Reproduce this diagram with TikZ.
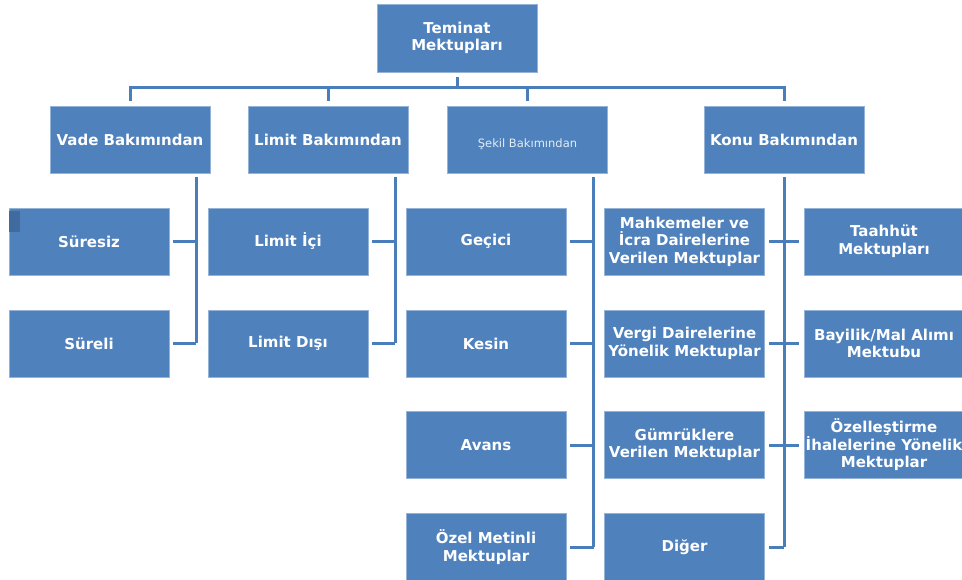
\documentclass[tikz,border=0pt]{standalone}
\usepackage{fontspec}
\setmainfont{DejaVu Sans}
\definecolor{boxblue}{HTML}{4F81BD}
\definecolor{lineblue}{HTML}{4A7EBB}
\definecolor{boxdark}{HTML}{3F6B9F}
\tikzset{
    box/.style={fill=boxblue, draw=boxblue!60!white, line width=0.8pt, text=white,
        minimum width=160pt, minimum height=67pt, inner sep=0pt, align=center,
        font=\fontsize{15}{17.5}\selectfont\bfseries},
    link/.style={draw=lineblue, line width=3pt}
}
\begin{document}
\begin{tikzpicture}[x=1pt,y=-1pt]
    \def\topy {139.5}
    \def\busy {88}
    \useasboundingbox (0,0) rectangle (962,580);
    \fill[white] (0,0) rectangle (962,580);

    \node[box, minimum height=68pt] (root) at (457,38) {Teminat\\Mektupları};
    \node[box] (vade) at (130,\topy) {Vade Bakımından};
    \node[box] (limit) at (328,\topy) {Limit Bakımından};
    \node[box, font=\fontsize{11.5}{13}\selectfont, text=white!85!boxblue] (sekil) at (527.5,\topy) {\raisebox{-8.5pt}[0pt][0pt]{Şekil Bakımından}};
    \node[box] (konu) at (784,\topy) {Konu Bakımından};

    \foreach \name/\x/\y/\txt in {
        suresiz/89/241.5/{Süresiz},
        sureli/89/343.5/{Süreli},
        limitici/288/241.5/{Limit İçi},
        limitdisi/288/343.5/{Limit Dışı},
        gecici/486/241.5/{Geçici},
        kesin/486/343.5/{Kesin},
        avans/486/445/{Avans},
        ozel/486/547/{Özel Metinli\\Mektuplar},
        mahkeme/684.5/241.5/{Mahkemeler ve\\İcra Dairelerine\\Verilen Mektuplar},
        vergi/684.5/343.5/{Vergi Dairelerine\\Yönelik Mektuplar},
        gumruk/684.5/445/{Gümrüklere\\Verilen Mektuplar},
        diger/684.5/547/{Diğer},
        taahhut/884/241.5/{Taahhüt\\Mektupları},
        bayilik/884/343.5/{Bayilik/Mal Alımı\\Mektubu},
        ihale/884/445/{Özelleştirme\\İhalelerine Yönelik\\Mektuplar}}
        \node[box] (\name) at (\x,\y) {\txt};

    \fill[boxdark] (9,211) rectangle (20,232);

    \coordinate (bus) at (457,\busy);
    \draw[link, shorten <=5pt] (root.south) -- (bus);
    \draw[link, shorten <=5pt, shorten >=5pt] (vade.north) -- (bus -| vade.north) -- (bus -| konu.north) -- (konu.north);
    \foreach \n in {limit,sekil}
        \draw[link, shorten >=5pt] (bus -| \n.north) -- (\n.north);

    \coordinate (vtop) at ([xshift=-14pt,yshift=-4pt]vade.south east);
    \coordinate (ltop) at ([xshift=-13pt,yshift=-4pt]limit.south east);
    \coordinate (stop) at ([xshift=-14pt,yshift=-4pt]sekil.south east);
    \coordinate (ktop) at ([yshift=-4pt]konu.south);
    \draw[link] (vtop) -- (vtop |- sureli);
    \draw[link] (ltop) -- (ltop |- limitdisi);
    \draw[link] (stop) -- (stop |- ozel);
    \draw[link] (ktop) -- (ktop |- diger);

    \foreach \c/\p in {suresiz/vtop, sureli/vtop, limitici/ltop, limitdisi/ltop,
        gecici/stop, kesin/stop, avans/stop, ozel/stop,
        mahkeme/ktop, vergi/ktop, gumruk/ktop, diger/ktop}
        \draw[link, shorten <=4pt] (\c.east) -- (\c -| \p);
    \foreach \c in {taahhut, bayilik, ihale}
        \draw[link, shorten >=5pt] (\c -| ktop) -- (\c.west);
\end{tikzpicture}
\end{document}
